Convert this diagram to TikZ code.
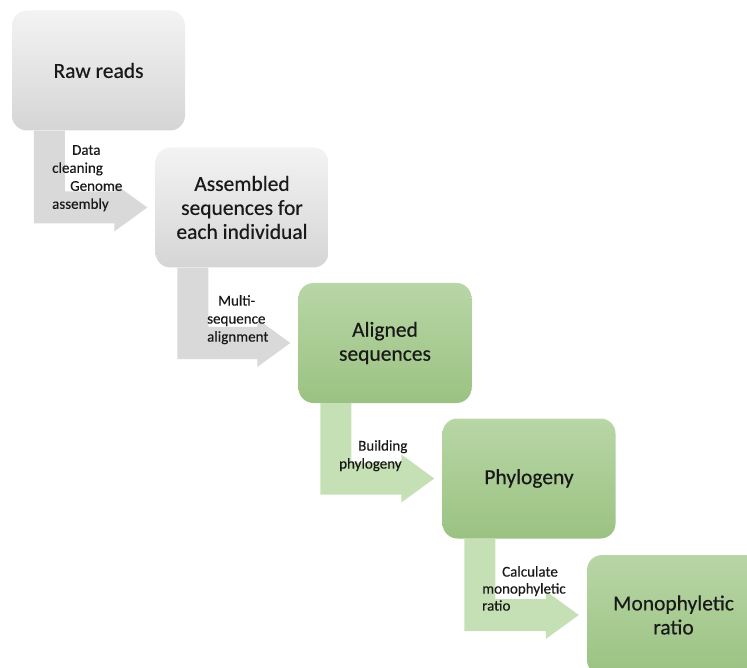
\documentclass[tikz,border=0pt]{standalone}
\usepackage{fontspec}
\setmainfont{Carlito}
\newfontfamily\diagfont{Carlito}[FakeBold=0.35]
\usetikzlibrary{calc}
\definecolor{gytop}{RGB}{243,243,243}
\definecolor{gybot}{RGB}{213,213,213}
\definecolor{grtop}{RGB}{184,214,166}
\definecolor{grbot}{RGB}{155,194,130}
\definecolor{gyarrow}{RGB}{217,217,217}
\definecolor{grarrow}{RGB}{198,224,181}
\definecolor{txt}{RGB}{25,25,25}
\tikzset{
  box/.style={rounded corners=15pt, minimum width=173pt, minimum height=120pt,
    inner sep=0pt, align=center, font=\diagfont\fontsize{21.5}{24}\selectfont, text=txt},
  graybox/.style={box, top color=gytop, bottom color=gybot},
  greenbox/.style={box, top color=grtop, bottom color=grbot},
  lbl/.style={align=left, inner sep=0pt, anchor=north west,
    font=\diagfont\fontsize{15}{18}\selectfont, text=txt},
}
\newcommand\bentarrow[3]{%
  \fill[#3] let \p1=(#1.south west), \p2=(#2.west) in
    (\x1+22pt,\y1) -- (\x1+53pt,\y1) -- (\x1+53pt,\y2+16pt) -- (\x2-41pt,\y2+16pt)
    -- (\x2-41pt,\y2+24pt) -- (\x2-8pt,\y2) -- (\x2-41pt,\y2-24pt)
    -- (\x2-41pt,\y2-16pt) -- (\x1+22pt,\y2-16pt) -- cycle;
}
\begin{document}
\begin{tikzpicture}[x=1pt,y=-1pt]
\clip (0,0) rectangle (747,668);
\node[graybox]  (b1) at (98.5,70.5) {Raw reads};
\node[graybox]  (b2) at (242,207.5) {Assembled\\sequences for\\each individual};
\node[greenbox] (b3) at (385,343) {Aligned\\sequences};
\node[greenbox] (b4) at (529,478.5) {Phylogeny};
\node[greenbox] (b5) at (673.5,615) {Monophyletic\\ratio};
\bentarrow{b1}{b2}{gyarrow}
\bentarrow{b2}{b3}{gyarrow}
\bentarrow{b3}{b4}{grarrow}
\bentarrow{b4}{b5}{grarrow}
\node[lbl] (l1) at (52,145) {\hspace*{20pt}Data\\cleaning\\\hspace*{18pt}Genome\\assembly};
\node[lbl] (l2) at (207,295) {\hspace*{11pt}Multi-\\sequence\\alignment};
\node[lbl] (l3) at (339,440) {\hspace*{19pt}Building\\phylogeny};
\node[lbl, font=\diagfont\fontsize{15}{17}\selectfont] (l4) at (482,566) {\hspace*{20pt}Calculate\\monophyletic\\ratio};
\end{tikzpicture}
\end{document}
